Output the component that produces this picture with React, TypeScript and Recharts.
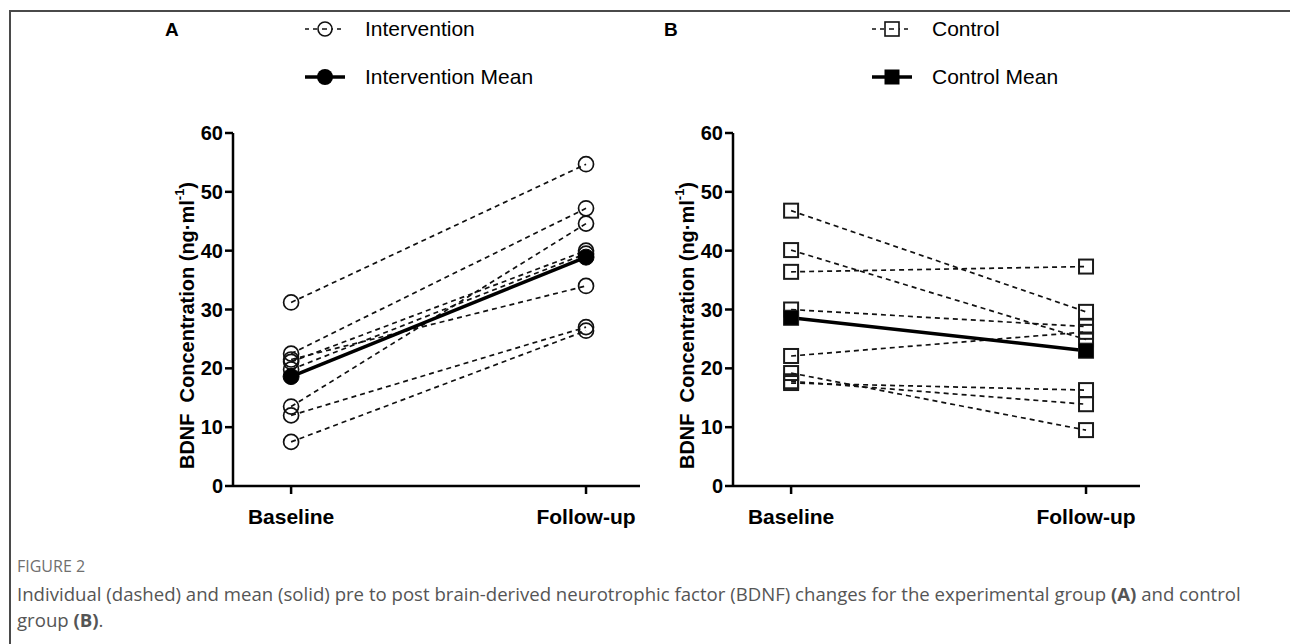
import React from 'react';
import { LineChart, Line, XAxis, YAxis } from 'recharts';

const categories = ['Baseline', 'Follow-up'];
const yTicks = [0, 10, 20, 30, 40, 50, 60];

const interventionBaseline = [31.2, 22.5, 21.1, 19.8, 21.5, 13.5, 12.0, 7.5];
const interventionFollowup = [54.7, 47.2, 40.0, 39.5, 34.0, 44.6, 27.0, 26.4];
const interventionMean = [18.6, 38.9];

const controlBaseline = [46.8, 40.1, 36.4, 30.0, 22.1, 19.2, 17.5, 17.8];
const controlFollowup = [29.6, 24.9, 37.3, 27.1, 26.2, 9.5, 16.3, 13.9];
const controlMean = [28.6, 23.0];

const panelALegend = ['Intervention', 'Intervention Mean'];
const panelBLegend = ['Control', 'Control Mean'];

const FONT = '"Liberation Sans", Arial, sans-serif';

function buildRows(base: number[], follow: number[], mean: number[]) {
  return categories.map((c, i) => {
    const row: any = { x: i, cat: c, mean: mean[i] };
    base.forEach((_, k) => {
      row['p' + k] = i === 0 ? base[k] : follow[k];
    });
    return row;
  });
}

const makeDot = (kind: 'circle' | 'square', filled: boolean) => (props: any) => {
  const { cx, cy, index, dataKey } = props;
  const key = `d-${dataKey}-${index}`;
  if (cx == null || cy == null) return <g key={key} />;
  if (kind === 'circle') {
    return filled ? (
      <circle key={key} cx={cx} cy={cy} r={8} fill="#000" stroke="#000" strokeWidth={1} />
    ) : (
      <circle key={key} cx={cx} cy={cy} r={7.5} fill="none" stroke="#111" strokeWidth={1.7} />
    );
  }
  const s = filled ? 15 : 14;
  return (
    <rect
      key={key}
      x={cx - s / 2}
      y={cy - s / 2}
      width={s}
      height={s}
      fill={filled ? '#000' : 'none'}
      stroke="#1a1a1a"
      strokeWidth={filled ? 1 : 2}
    />
  );
};

const YLabel = (props: any) => {
  const vb = props.viewBox || {};
  const cx = vb.x + 14;
  const cy = vb.y + vb.height / 2 + 16;
  return (
    <text
      transform={`translate(${cx},${cy}) rotate(-90)`}
      textAnchor="middle"
      dominantBaseline="central"
      fontFamily={FONT}
      fontWeight="bold"
      fontSize={20}
      fill="#000"
      style={{ whiteSpace: 'pre' }}
    >
      {'BDNF  Concentration (ng·ml'}
      <tspan fontSize={13} dy={-8}>-1</tspan>
      <tspan dy={8}>)</tspan>
    </text>
  );
};

function Panel(props: {
  left: number;
  base: number[];
  follow: number[];
  mean: number[];
  kind: 'circle' | 'square';
}) {
  const { left, base, follow, mean, kind } = props;
  const rows = buildRows(base, follow, mean);
  return (
    <div style={{ position: 'absolute', left, top: 0 }}>
      <LineChart
        width={700}
        height={560}
        data={rows}
        margin={{ top: 133, right: 60, bottom: 34, left: 173 }}
      >
        <XAxis
          type="number"
          dataKey="x"
          domain={[-0.197, 1.183]}
          ticks={[0, 1]}
          allowDataOverflow
          tickFormatter={(v: number) => categories[v]}
          axisLine={{ stroke: '#000', strokeWidth: 2.5 }}
          tickLine={{ stroke: '#000', strokeWidth: 2.5 }}
          tickSize={8}
          tickMargin={15}
          height={40}
          tick={{ fontFamily: FONT, fontWeight: 'bold', fontSize: 21, fill: '#000' }}
          interval={0}
        />
        <YAxis
          type="number"
          domain={[0, 60]}
          ticks={yTicks}
          interval={0}
          width={60}
          axisLine={{ stroke: '#000', strokeWidth: 2.5 }}
          tickLine={{ stroke: '#000', strokeWidth: 2.5 }}
          tickSize={8}
          tick={{ fontFamily: FONT, fontWeight: 'bold', fontSize: 20, fill: '#000' }}
          label={{ content: YLabel }}
        />
        {base.map((_, k) => (
          <Line
            key={'p' + k}
            dataKey={'p' + k}
            stroke="#111"
            strokeWidth={1.7}
            strokeDasharray="5 4"
            dot={makeDot(kind, false)}
            activeDot={false}
            isAnimationActive={false}
          />
        ))}
        <Line
          dataKey="mean"
          stroke="#000"
          strokeWidth={3.5}
          dot={makeDot(kind, true)}
          activeDot={false}
          isAnimationActive={false}
        />
      </LineChart>
    </div>
  );
}

function LegendBlock(props: { left: number; letterLeft: number; letter: string; names: string[]; kind: 'circle' | 'square' }) {
  const { left, letterLeft, letter, names, kind } = props;
  return (
    <>
      <div
        style={{
          position: 'absolute',
          left: letterLeft,
          top: 19,
          fontFamily: FONT,
          fontWeight: 'bold',
          fontSize: 19,
          color: '#000',
        }}
      >
        {letter}
      </div>
      {names.map((n, i) => {
        const cy = i === 0 ? 29 : 77;
        return (
          <div key={n} style={{ position: 'absolute', left, top: cy - 15, height: 30 }}>
            <svg width={50} height={30} style={{ position: 'absolute', left: 0, top: 0 }}>
              {i === 0 ? (
                <line x1={0} y1={15} x2={40} y2={15} stroke="#111" strokeWidth={1.5} strokeDasharray="4 4" />
              ) : (
                <line x1={0} y1={15} x2={40} y2={15} stroke="#000" strokeWidth={3.5} />
              )}
              {kind === 'circle' ? (
                i === 0 ? (
                  <circle cx={20} cy={15} r={7} fill="#fff" stroke="#111" strokeWidth={1.6} />
                ) : (
                  <circle cx={20} cy={15} r={8} fill="#000" />
                )
              ) : i === 0 ? (
                <rect x={13} y={8} width={14} height={14} fill="#fff" stroke="#111" strokeWidth={1.6} />
              ) : (
                <rect x={12.5} y={7.5} width={15} height={15} fill="#000" />
              )}
              {i === 0 ? <line x1={17} y1={15} x2={22} y2={15} stroke="#111" strokeWidth={1.5} /> : null}
            </svg>
            <div
              style={{
                position: 'absolute',
                left: 60,
                top: 2,
                fontFamily: FONT,
                fontSize: 21,
                whiteSpace: 'nowrap',
                color: '#000',
                lineHeight: '26px',
              }}
            >
              {n}
            </div>
          </div>
        );
      })}
    </>
  );
}

export default function App() {
  return (
    <div style={{ position: 'absolute', left: 0, top: 0, width: 1290, height: 644, overflow: 'hidden', background: '#fff' }}>
      <div
        style={{
          position: 'absolute',
          left: 9,
          top: 10,
          width: 1300,
          height: 700,
          borderLeft: '2px solid #4a4a4a',
          borderTop: '2px solid #4a4a4a',
        }}
      />
      <Panel left={0} base={interventionBaseline} follow={interventionFollowup} mean={interventionMean} kind="circle" />
      <Panel left={500} base={controlBaseline} follow={controlFollowup} mean={controlMean} kind="square" />
      <LegendBlock left={305} letterLeft={165} letter="A" names={panelALegend} kind="circle" />
      <LegendBlock left={872} letterLeft={664} letter="B" names={panelBLegend} kind="square" />
      <div
        style={{
          position: 'absolute',
          left: 17,
          top: 555,
          fontFamily: '"Open Sans", sans-serif',
          fontSize: 16,
          color: '#6f6f6f',
        }}
      >
        FIGURE 2
      </div>
      <div
        style={{
          position: 'absolute',
          left: 17,
          top: 581,
          width: 1240,
          fontFamily: '"Open Sans", sans-serif',
          fontSize: 18.6,
          lineHeight: '26px',
          color: '#555',
        }}
      >
        Individual (dashed) and mean (solid) pre to post brain-derived neurotrophic factor (BDNF) changes for the experimental group <b>(A)</b> and control group <b>(B)</b>.
      </div>
    </div>
  );
}
